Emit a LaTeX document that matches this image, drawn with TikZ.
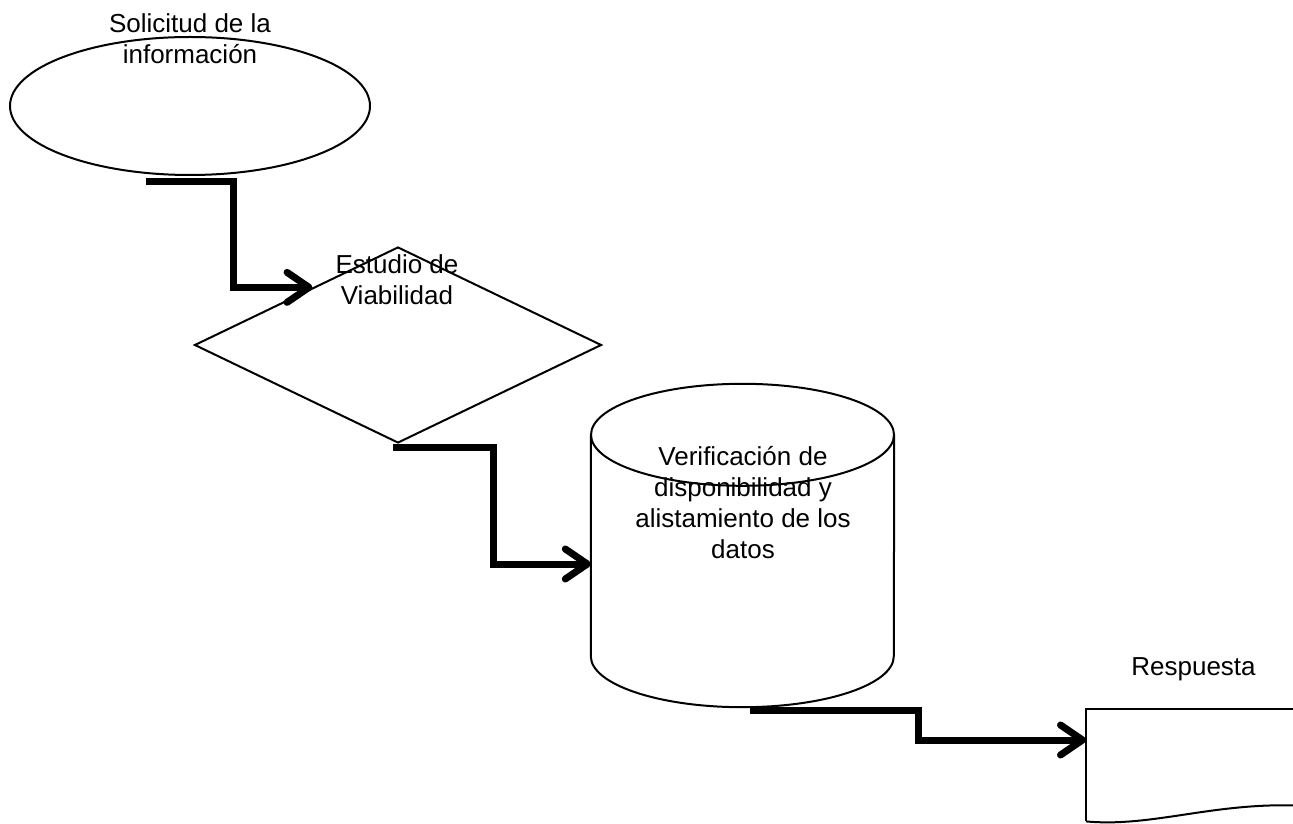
\documentclass[tikz,border=0pt]{standalone}
\usepackage{fontspec}
\setmainfont{Liberation Sans}
\usetikzlibrary{shapes.geometric,arrows.meta}

\begin{document}
\begin{tikzpicture}[x=1pt, y=1pt,
  forma/.style={draw, line width=2pt, inner sep=0pt},
  rotulo/.style={font=\fontsize{26}{31}\selectfont, align=center, inner sep=0pt},
  flecha/.style={line width=7pt, -{Straight Barb[length=22pt,width=30pt,round]}}]
\useasboundingbox (0,0) rectangle (1293,823);
\node[forma, ellipse, minimum width=360pt, minimum height=138pt] (solicitud) at (190,717) {};
\node[forma, diamond, minimum width=407pt, minimum height=196pt] (estudio) at (398,478) {};
\node[inner sep=0pt, minimum width=303pt, minimum height=323pt] (verificacion) at (742.5,277.5) {};
\draw[line width=2pt] ([yshift=-51pt]verificacion.north) ellipse [x radius=151.5, y radius=51];
\draw[line width=2pt] ([yshift=-51pt]verificacion.north west) -- ([yshift=51pt]verificacion.south west)
  arc[start angle=180, end angle=360, x radius=151.5, y radius=51] -- ([yshift=-51pt]verificacion.north east);
\node[inner sep=0pt, minimum width=207pt, minimum height=120pt, anchor=north west] (respuesta) at (1086,114) {};
\draw[line width=2pt] ([yshift=8pt]respuesta.south west) -- (respuesta.north west) -- (respuesta.north east);
\draw[line width=2pt] ([yshift=8pt]respuesta.south west) .. controls +(64,-6) and +(-83,2) .. ++(207,16);
\node[rotulo, anchor=north] (txtsolicitud) at (190,810) {Solicitud de la\\información};
\node[rotulo, anchor=north] (txtestudio) at (397,569) {Estudio de\\Viabilidad};
\node[rotulo, anchor=north] (txtverificacion) at (743,377) {Verificación de\\disponibilidad y\\alistamiento de los\\datos};
\node[rotulo, anchor=base] (txtrespuesta) at (1193.5,148) {Respuesta};
\draw[flecha] ([shift={(-44,-6)}]solicitud.south) -- ++(87,0) |- (estudio.146);
\draw[flecha] ([shift={(-5,-4)}]estudio.south) -- ++(100,0) |- ([yshift=-18.5pt]verificacion.west);
\draw[flecha] ([shift={(7.5,-3)}]verificacion.south) -- ++(168,0) |- ([yshift=-31pt]respuesta.north west);
\end{tikzpicture}
\end{document}
